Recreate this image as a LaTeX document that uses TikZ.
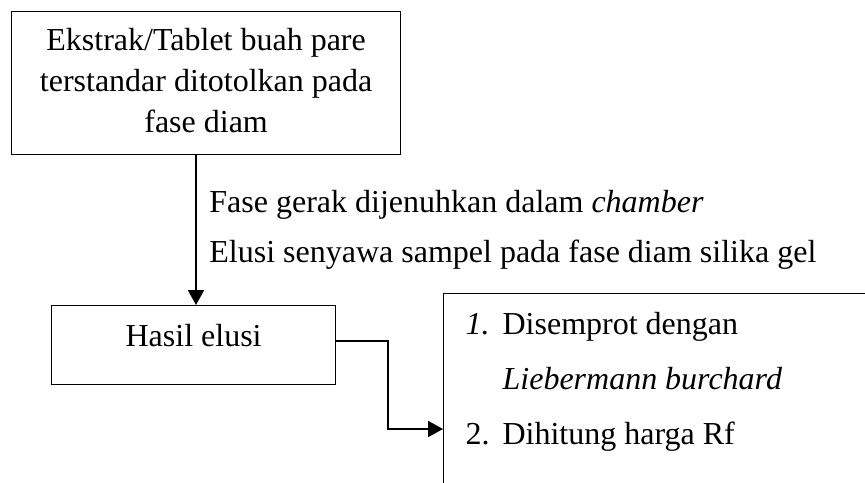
\documentclass[tikz,border=0pt]{standalone}
\usepackage{fontspec}
\setmainfont{Liberation Serif}
\usepackage{tikz}
\usetikzlibrary{arrows.meta,calc,positioning}

\tikzset{
  spasi/.style={execute at begin node={\spaceskip=4pt\xspaceskip=4pt\relax}},
  kotak/.style={draw,line width=0.6pt,inner sep=0pt,spasi,font=\fontsize{16}{20.5}\selectfont},
  daftar/.style={draw,line width=0.6pt,align=left,text width=260pt,inner xsep=11pt,inner ysep=0pt,
    text height=20.5pt,text depth=150pt,spasi,font=\fontsize{16}{27.5}\selectfont},
  ket/.style={align=left,text width=320pt,inner sep=0pt,spasi,font=\fontsize{16}{25}\selectfont},
  panah/.style={line width=1pt,-{Triangle[length=7.5pt,width=8pt]}}
}

\begin{document}
\begin{tikzpicture}[x=0.5pt,y=-0.5pt]
  \useasboundingbox (0,0) rectangle (865,482);
  \clip (0,0) rectangle (865,482);
  % kotak awal
  \node[kotak,anchor=north west,align=center,text width=194.5pt,text height=19.5pt,text depth=52pt]
    (ekstrak) at (11,11) {Ekstrak/Tablet buah pare\\terstandar ditotolkan pada\\fase diam};
  \node[kotak,anchor=north west,minimum width=142pt,text height=20.5pt,text depth=19pt]
    (hasil) at (51,305) {Hasil elusi};
  \node[daftar,anchor=north west] (uji) at (443,293)
    {\makebox[18.5pt][l]{\textit{1.}}Disemprot dengan\\
     \hspace*{18.5pt}\textit{Liebermann burchard}\\
     \makebox[18.5pt][l]{2.}Dihitung harga Rf};
  \node[ket,anchor=base west] (keterangan) at (209,212)
    {Fase gerak dijenuhkan dalam \textit{chamber}\\Elusi senyawa sampel pada fase diam silika gel};
  % panah
  \coordinate (ax) at (196,0);
  \coordinate (masuk) at (443,429);
  \draw[panah] (ekstrak.south -| ax) -- (hasil.north -| ax);
  \draw[panah] ([yshift=2.25pt]hasil.east) -| ([xshift=-27.5pt]masuk) -- (masuk);
\end{tikzpicture}
\end{document}
